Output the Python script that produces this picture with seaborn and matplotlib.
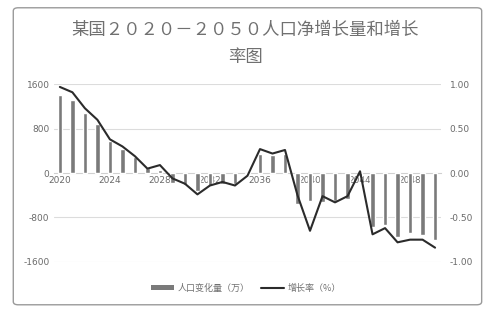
import numpy as np
import pandas as pd
import matplotlib
matplotlib.use('Agg')
import matplotlib.pyplot as plt
import seaborn as sns
from matplotlib.patches import Patch, FancyBboxPatch
from matplotlib.lines import Line2D

years = list(range(2020, 2051))
change = [1400, 1320, 1080, 890, 580, 430, 290, 100, 60, -170, -210, -330, -240, -190, -190, -20,
          350, 320, 340, -560, -510, -520, -500, -470, -50, -980, -930, -1150, -1080, -1110, -1200]
rate = [0.97, 0.91, 0.73, 0.60, 0.38, 0.30, 0.19, 0.05, 0.09, -0.06, -0.12, -0.24, -0.14, -0.10, -0.14, -0.03,
        0.27, 0.22, 0.26, -0.25, -0.65, -0.26, -0.33, -0.26, 0.02, -0.69, -0.62, -0.78, -0.75, -0.75, -0.84]
left_ticks = [-1600, -800, 0, 800, 1600]
right_ticks = [-1.0, -0.5, 0.0, 0.5, 1.0]
title_lines = ['某国２０２０－２０５０人口净增长量和增长', '率图']
legend_labels = ['人口变化量（万）', '增长率（%）']

df = pd.DataFrame({'year': years, 'change': change, 'rate': rate})
df['pos'] = np.arange(len(df))

sns.set_style('white')
plt.rcParams['font.family'] = ['DejaVu Sans']
cjk = ['Noto Sans CJK SC', 'DejaVu Sans']

fig = plt.figure(figsize=(4.92, 3.11), dpi=100)
ax1 = fig.add_axes([0.109, 0.158, 0.788, 0.571])
ax2 = ax1.twinx()

sns.barplot(data=df, x='pos', y='change', color='#7a7a7a', width=0.34,
            saturation=1, ax=ax1, zorder=3)
sns.lineplot(data=df, x='pos', y='rate', color='#2b2b2b', linewidth=1.5, ax=ax2)

ax1.set_xlim(-0.5, len(df) - 0.5)
ax1.set_ylim(-1600, 1600)
ax2.set_ylim(-1, 1)
ax1.set_yticks(left_ticks)
ax1.set_yticklabels([str(v) for v in left_ticks])
ax2.set_yticks(right_ticks)
ax2.set_yticklabels([f'{v:.2f}' for v in right_ticks])
ax1.set_xticks(range(0, len(df), 4))
ax1.set_xticklabels([str(y) for y in years[::4]])

for v in [-1600, -800, 800, 1600]:
    ax1.axhline(v, color='#dcdcdc', linewidth=0.8, zorder=0)

for ax in (ax1, ax2):
    ax.set_xlabel('')
    ax.set_ylabel('')
    for s in ax.spines.values():
        s.set_visible(False)
    ax.tick_params(length=0, labelsize=6.5, labelcolor='#6a6a6a')
ax1.spines['bottom'].set_visible(True)
ax1.spines['bottom'].set_position(('data', 0))
ax1.spines['bottom'].set_color('#d0d0d0')
ax1.spines['bottom'].set_linewidth(0.8)
ax1.tick_params(axis='x', pad=2)
ax1.tick_params(axis='y', pad=3)
ax2.tick_params(axis='y', pad=6)

# titles
fig.text(0.498, 0.904, title_lines[0], ha='center', va='center', fontsize=12.5,
         color='#707070', family=cjk)
fig.text(0.498, 0.817, title_lines[1], ha='center', va='center', fontsize=12.5,
         color='#707070', family=cjk)

handles = [Patch(facecolor='#7a7a7a', edgecolor='none'),
           Line2D([0], [0], color='#2b2b2b', linewidth=1.5)]
fig.legend(handles, legend_labels, loc='center', bbox_to_anchor=(0.5, 0.074), ncol=2,
           frameon=False, prop={'family': cjk, 'size': 6.5}, labelcolor='#707070',
           handlelength=2.6, handleheight=0.6, columnspacing=1.2, handletextpad=0.4)

# outer frame of the chart
frame = FancyBboxPatch((0.027, 0.02), 0.952, 0.955, boxstyle='round,pad=0,rounding_size=0.01',
                       transform=fig.transFigure, fill=False, edgecolor='#9a9a9a',
                       linewidth=1.0)
fig.patches.append(frame)

fig.savefig('out.png', dpi=100)
